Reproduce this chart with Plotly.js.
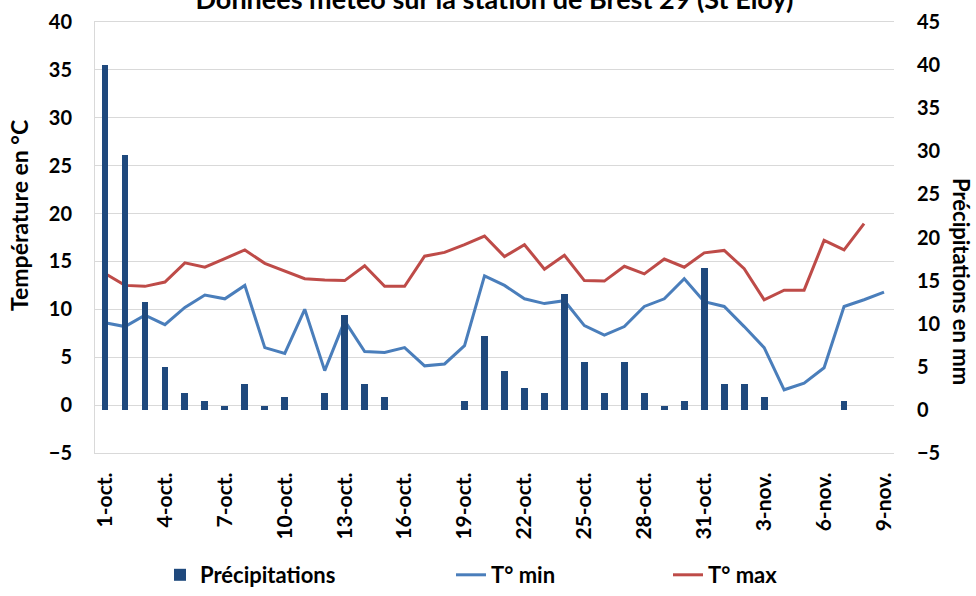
<!DOCTYPE html>
<html>
<head>
<meta charset="utf-8">
<script src="https://cdn.plot.ly/plotly-3.0.1.min.js"></script>
<style>html,body{margin:0;padding:0;background:#fff;}#chart{width:976px;height:596px;}</style>
</head>
<body>
<div id="chart"></div>
<script>
const days = ["1-oct.","2-oct.","3-oct.","4-oct.","5-oct.","6-oct.","7-oct.","8-oct.","9-oct.","10-oct.",
  "11-oct.","12-oct.","13-oct.","14-oct.","15-oct.","16-oct.","17-oct.","18-oct.","19-oct.","20-oct.",
  "21-oct.","22-oct.","23-oct.","24-oct.","25-oct.","26-oct.","27-oct.","28-oct.","29-oct.","30-oct.",
  "31-oct.","1-nov.","2-nov.","3-nov.","4-nov.","5-nov.","6-nov.","7-nov.","8-nov.","9-nov."];
const precipitations = [40, 29.6, 12.5, 5.0, 2.0, 1.0, 0.5, 3.0, 0.5, 1.5,
  null, 2.0, 11.0, 3.0, 1.5, null, null, null, 1.0, 8.6,
  4.5, 2.5, 2.0, 13.5, 5.5, 2.0, 5.5, 2.0, 0.5, 1.0,
  16.5, 3.0, 3.0, 1.5, null, null, null, 1.0, null, null];
const tMin = [8.6, 8.2, 9.4, 8.4, 10.2, 11.5, 11.1, 12.5, 6.0, 5.4,
  10.0, 3.6, 8.8, 5.6, 5.5, 6.0, 4.1, 4.3, 6.2, 13.5,
  12.5, 11.1, 10.6, 10.9, 8.3, 7.3, 8.2, 10.3, 11.1, 13.2,
  10.8, 10.3, 8.2, 6.0, 1.6, 2.3, 3.9, 10.3, 11.0, 11.8];
const tMax = [13.75, 12.5, 12.4, 12.85, 14.85, 14.4, 15.3, 16.2, 14.8, 14.0,
  13.2, 13.05, 13.0, 14.55, 12.4, 12.4, 15.55, 15.95, 16.75, 17.65,
  15.5, 16.75, 14.2, 15.65, 13.0, 12.95, 14.5, 13.7, 15.25, 14.4,
  15.9, 16.15, 14.25, 11.0, 12.0, 12.0, 17.2, 16.2, 18.95, null];
const tickDays = days.filter((d, i) => i % 3 === 0);

const FONT = "Lato, 'Open Sans', sans-serif";
const bold = t => "<b>" + t + "</b>";

const traces = [
  {type: "bar", name: bold("Précipitations"), x: days, y: precipitations, yaxis: "y2",
   marker: {color: "#1F497D", line: {width: 0}}, width: 0.34, legend: "legend"},
  {type: "scatter", mode: "lines", name: bold("T° min"), x: days, y: tMin,
   line: {color: "#4A7EBB", width: 3}, legend: "legend2"},
  {type: "scatter", mode: "lines", name: bold("T° max"), x: days, y: tMax,
   line: {color: "#BE4B48", width: 3}, legend: "legend3"}
];

const legendBase = {orientation: "h", xref: "container", yref: "container", yanchor: "bottom",
  y: -0.008, font: {family: FONT, size: 22, color: "#000"}, bgcolor: "rgba(0,0,0,0)", borderwidth: 0};

const layout = {
  width: 976, height: 596,
  margin: {l: 95, r: 82, t: 22, b: 143},
  paper_bgcolor: "#fff", plot_bgcolor: "#fff",
  font: {family: FONT, color: "#000"},
  title: {text: bold("Données météo sur la station de Brest 29 (St Eloy)"),
    font: {family: FONT, size: 27, color: "#000"},
    xref: "paper", x: 0.5, xanchor: "center", yref: "container", y: 1.0, yanchor: "middle"},
  xaxis: {type: "category", range: [-0.5, 39.5], tickmode: "array", tickvals: tickDays, ticktext: tickDays.map(bold),
    tickangle: -90, ticks: "outside", ticklen: 10, tickcolor: "rgba(0,0,0,0)",
    tickfont: {family: FONT, size: 21, color: "#000", weight: "bold"},
    showgrid: false, showline: true, linecolor: "#D9D9D9", linewidth: 1, mirror: true, fixedrange: true},
  yaxis: {range: [-5, 40], dtick: 5, tick0: 0, showgrid: true, gridcolor: "#D9D9D9", gridwidth: 1,
    zeroline: false, showline: true, linecolor: "#D9D9D9", mirror: false,
    ticks: "outside", ticklen: 18, tickcolor: "rgba(0,0,0,0)",
    tickfont: {family: FONT, size: 20, color: "#000", weight: "bold"}, tickformat: "d"},
  yaxis2: {range: [-5, 45], dtick: 5, tick0: 0, overlaying: "y", side: "right", showgrid: false,
    zeroline: false, showline: false, ticks: "outside", ticklen: 18, tickcolor: "rgba(0,0,0,0)",
    tickfont: {family: FONT, size: 20, color: "#000", weight: "bold"}, tickformat: "d"},
  bargap: 0,
  showlegend: true,
  legend: Object.assign({}, legendBase, {x: 160/976}),
  legend2: Object.assign({}, legendBase, {x: 451/976}),
  legend3: Object.assign({}, legendBase, {x: 668/976}),
  annotations: [
    {text: bold("Température en °C"), xref: "paper", yref: "paper", x: 0, xshift: -76,
     y: (453-216)/431, textangle: -90, showarrow: false, xanchor: "center", yanchor: "middle",
     font: {family: FONT, size: 23, color: "#000"}},
    {text: bold("Précipitations en mm"), xref: "paper", yref: "paper", x: 1, xshift: 68,
     y: (453-281)/431, textangle: 90, showarrow: false, xanchor: "center", yanchor: "middle",
     font: {family: FONT, size: 22, color: "#000"}}
  ]
};

Plotly.newPlot("chart", traces, layout, {displayModeBar: false, staticPlot: true});
</script>
</body>
</html>
